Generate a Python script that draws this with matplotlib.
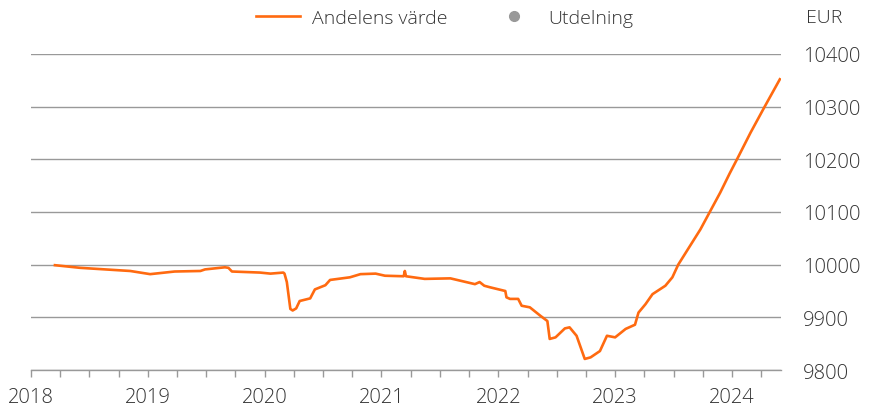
import matplotlib.pyplot as plt
from matplotlib.lines import Line2D
from matplotlib.ticker import MultipleLocator

plt.rcParams['font.family'] = ['Open Sans', 'DejaVu Sans']
plt.rcParams['font.weight'] = 'light'

# decimal year, fund value (EUR)
dates = [2018.205, 2018.42, 2018.85, 2019.02, 2019.23, 2019.45, 2019.49, 2019.66,
         2019.69, 2019.72, 2019.96, 2020.05, 2020.16, 2020.17, 2020.19, 2020.22,
         2020.24, 2020.27, 2020.30, 2020.39, 2020.43, 2020.52, 2020.56, 2020.73,
         2020.82, 2020.95, 2021.03, 2021.19, 2021.20, 2021.21, 2021.37, 2021.59,
         2021.80, 2021.84, 2021.88, 2021.93, 2022.06, 2022.07, 2022.10, 2022.17,
         2022.20, 2022.27, 2022.36, 2022.42, 2022.44, 2022.49, 2022.57, 2022.61,
         2022.67, 2022.74, 2022.79, 2022.87, 2022.93, 2023.00, 2023.09, 2023.17,
         2023.20, 2023.26, 2023.32, 2023.43, 2023.49, 2023.54, 2023.73, 2023.81,
         2023.90, 2023.98, 2024.05, 2024.16, 2024.28, 2024.41]
values = [9999, 9994, 9988, 9982, 9987, 9988, 9991, 9995,
          9994, 9987, 9985, 9983, 9985, 9983, 9967, 9916,
          9913, 9917, 9931, 9936, 9953, 9961, 9971, 9976,
          9982, 9983, 9979, 9978, 9988, 9978, 9973, 9974,
          9963, 9967, 9960, 9957, 9950, 9938, 9935, 9935,
          9922, 9919, 9903, 9893, 9859, 9862, 9879, 9881,
          9865, 9821, 9824, 9836, 9865, 9862, 9878, 9886,
          9909, 9925, 9944, 9960, 9976, 10000, 10067, 10100,
          10137, 10173, 10203, 10251, 10300, 10352]
years = [2018, 2019, 2020, 2021, 2022, 2023, 2024]
yticks = [9800, 9900, 10000, 10100, 10200, 10300, 10400]

orange = '#ff6a10'
grey = '#999999'
txt = '#333333'

fig = plt.figure(figsize=(8.75, 4.1), dpi=100)
ax = fig.add_axes([0.0354, 0.0951, 0.8572, 0.7708])

ax.plot(dates, values, color=orange, lw=1.9, zorder=3)

ax.set_xlim(2018, 2024.42)
ax.set_ylim(9800, 10400)
ax.set_xticks(years)
ax.set_xticklabels([str(y) for y in years])
ax.xaxis.set_minor_locator(MultipleLocator(0.25))
ax.set_yticks(yticks)
ax.yaxis.tick_right()
ax.grid(axis='y', color=grey, lw=1.0)
ax.set_axisbelow(True)

for s in ['left', 'top', 'right']:
    ax.spines[s].set_visible(False)
ax.spines['bottom'].set_color(grey)
ax.spines['bottom'].set_linewidth(1.0)

ax.tick_params(axis='x', which='both', direction='out', length=5, width=1,
               color=grey, labelsize=14.5, labelcolor=txt, pad=7)
ax.tick_params(axis='y', length=0, labelsize=14.5, labelcolor=txt, pad=16)

handles = [Line2D([], [], color=orange, lw=1.9),
           Line2D([], [], color=grey, marker='o', ms=7, lw=0)]
fig.legend(handles, ['Andelens värde', 'Utdelning'], ncol=2, frameon=False,
           loc='center', bbox_to_anchor=(0.508, 0.953), fontsize=14,
           labelcolor=txt, handlelength=2.3, handletextpad=0.6, columnspacing=2.3)

fig.text(0.921, 0.956, 'EUR', fontsize=14, color=txt, va='center', ha='left')

fig.savefig('out.png', dpi=100)
